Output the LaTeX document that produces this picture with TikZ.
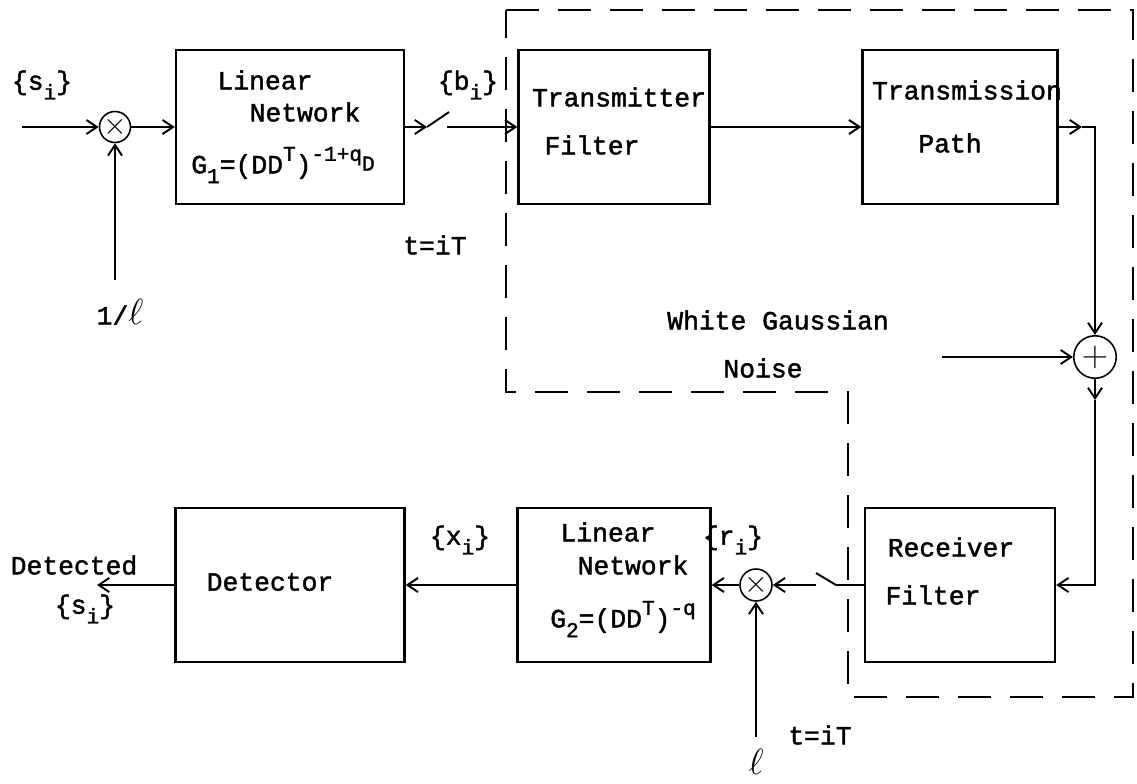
\documentclass[tikz,border=0pt]{standalone}
\usepackage{fontspec}
\setmainfont[FakeBold=1.6]{Liberation Mono}
\usetikzlibrary{arrows.meta}
\newcommand\lowi[1]{\raisebox{-0.7ex}{\fontsize{12}{12}\selectfont #1}}
\newcommand\upi[1]{\raisebox{0.9ex}{\fontsize{12}{12}\selectfont #1}}

\begin{document}
\begin{tikzpicture}[x=0.02cm,y=-0.02cm,
  >={Straight Barb[length=6pt,width=8pt]},
  every node/.style={font=\fontsize{15}{18}\selectfont},
  blk/.style={draw,line width=1.4pt,minimum height=3.08cm,inner sep=0pt},
  mult/.style={draw,circle,line width=0.9pt,inner sep=0pt,minimum size=0.58cm,
    font=\fontsize{17}{17}\selectfont},
  wire/.style={line width=1.1pt}]
\useasboundingbox (0,0) rectangle (1137,784);

% Channel (dashed boundary)
\draw[line width=1.4pt,dash pattern=on 0.66cm off 0.38cm]
  (506,10) -- (1133,10) -- (1133,697) -- (848,697) -- (848,392) -- (506,392) -- cycle;

% Transmitter side
\node[mult] (m1) at (115,127) {$\times$};
\node[blk,minimum width=4.56cm] (ln1) at (290,127) {};
\node[blk,minimum width=3.82cm] (tf) at (614,127) {};
\node[blk,minimum width=3.9cm] (tp) at (960,127) {};
\node[mult,minimum size=0.85cm,font=\fontsize{21}{21}\selectfont] (sum) at (1095,357) {$+$};

% Receiver side
\node[blk,minimum width=3.8cm] (rf) at (960,585) {};
\node[mult,minimum size=0.64cm] (m2) at (756,585) {$\times$};
\node[blk,minimum width=3.86cm] (ln2) at (614,585) {};
\node[blk,minimum width=4.58cm] (det) at (290,585) {};

% Block texts
\node (ln1a) at (265,80) {Linear};
\node (ln1b) at (305,112) {Network};
\node (ln1c) at (283,165) {G\lowi{1}=(DD\upi{T})\upi{-1+q}\raisebox{0.2ex}{\fontsize{12}{12}\selectfont D}};
\node (tfa) at (619,97) {Transmitter};
\node (tfb) at (592,145) {Filter};
\node (tpa) at (967,90) {Transmission};
\node (tpb) at (950,143) {Path};
\node (deta) at (270,582) {Detector};
\node (ln2a) at (608,532) {Linear};
\node (ln2b) at (633,565) {Network};
\node (ln2c) at (623,619) {G\lowi{2}=(DD\upi{T})\upi{-q}};
\node (rfa) at (951,547) {Receiver};
\node (rfb) at (933,595) {Filter};

% Signal labels
\node (lsi) at (42,85) {\{s\lowi{i}\}};
\node (linv) at (120,312) {1/\fontsize{22}{22}\selectfont$\ell$};
\node (lbi) at (468,85) {\{b\lowi{i}\}};
\node (lt1) at (435,245) {t=iT};
\node (lnoise) at (778,320) {White Gaussian};
\node (lnoiseb) at (763,368) {Noise};
\node (ldet) at (74,565) {Detected};
\node (lso) at (85,609) {\{s\lowi{i}\}};
\node (lxi) at (460,540) {\{x\lowi{i}\}};
\node (lri) at (733,540) {\{r\lowi{i}\}};
\node[font=\fontsize{21}{21}\selectfont] (lell) at (756,762) {$\ell$};
\node (lt2) at (820,735) {t=iT};

% Switch and wire points
\coordinate (in) at (22,127);
\coordinate (gin) at (115,280);
\coordinate (s1a) at (427,127);
\coordinate (s1b) at (449,112);
\coordinate (s1c) at (447,127);
\coordinate (c0) at (1082,127);
\coordinate (c1) at (1095,127);
\coordinate (nz) at (942,357);
\coordinate (c2) at (1095,400);
\coordinate (s2a) at (836,585);
\coordinate (s2b) at (816,573);
\coordinate (s2c) at (816,585);
\coordinate (gin2) at (756,737);
\coordinate (out) at (97,585);

% Connections
\draw[wire,->] (in) -- (m1);
\draw[wire,->] (gin) -- (m1);
\draw[wire,->] (m1) -- (ln1);
\draw[wire,->] (ln1) -- (s1a);
\draw[wire] (s1a) -- (s1b);
\draw[wire,->] (s1c) -- (tf);
\draw[wire,->] (tf) -- (tp);
\draw[wire,->] (tp) -- (c0);
\draw[wire,->] (c0) -- (c1) -- (sum);
\draw[wire,->] (nz) -- (sum);
\draw[wire,->] (sum) -- (c2);
\draw[wire,->] (c2) |- (rf);
\draw[wire] (rf) -- (s2a) -- (s2b);
\draw[wire,->] (s2c) -- (m2);
\draw[wire,->] (gin2) -- (m2);
\draw[wire,->] (m2) -- (ln2);
\draw[wire,->] (ln2) -- (det);
\draw[wire,->] (det) -- (out);
\end{tikzpicture}
\end{document}
